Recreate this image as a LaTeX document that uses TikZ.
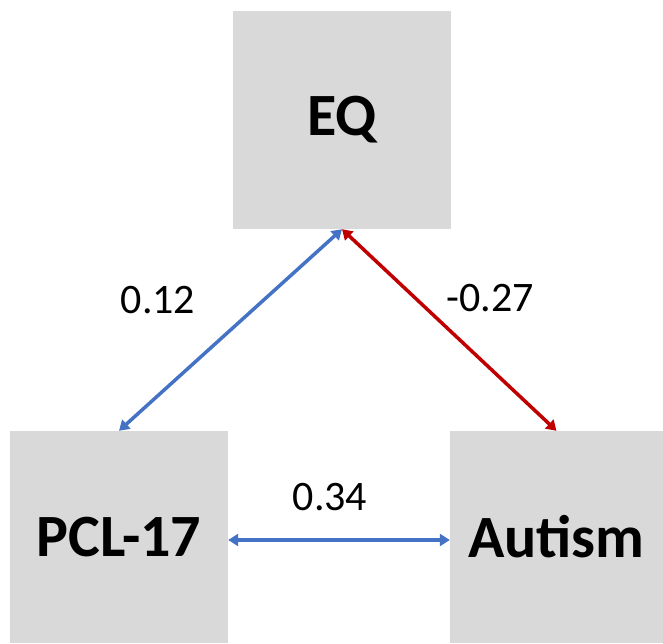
\documentclass[tikz,border=0pt]{standalone}
\usepackage{fontspec}
\setmainfont{Carlito}
\usetikzlibrary{arrows.meta}
\definecolor{boxgray}{HTML}{D9D9D9}
\definecolor{linkblue}{HTML}{4472C4}
\definecolor{linkred}{HTML}{C00000}
\tikzset{
  varbox/.style={fill=boxgray, draw=none, inner sep=0pt, font=\fontsize{60}{64}\selectfont\bfseries, text=black},
  link/.style={line width=3.5pt, {Triangle[length=10pt,width=12pt]}-{Triangle[length=10pt,width=12pt]}},
  coef/.style={font=\fontsize{42}{46}\selectfont, text=black, inner sep=0pt}
}
\begin{document}
\begin{tikzpicture}[x=1pt,y=1pt]
\useasboundingbox (0,0) rectangle (663,643);
\node[varbox, minimum width=218pt, minimum height=218pt] (eq) at (342,523) {EQ};
\node[varbox, minimum width=218pt, minimum height=212pt] (pcl) at (119,106) {PCL-17};
\node[varbox, minimum width=213pt, minimum height=212pt] (aut) at (556.5,106) {Autism};
\draw[link, linkblue] (eq.south) -- (pcl.north);
\draw[link, linkred] (eq.south) -- (aut.north);
\draw[link, linkblue] ([yshift=-3pt]pcl.east) -- ([yshift=-3pt]aut.west);
\node[coef] (c1) at (158,343) {0.12};
\node[coef] (c2) at (490,345) {-0.27};
\node[coef] (c3) at (330,146) {0.34};
\end{tikzpicture}
\end{document}
